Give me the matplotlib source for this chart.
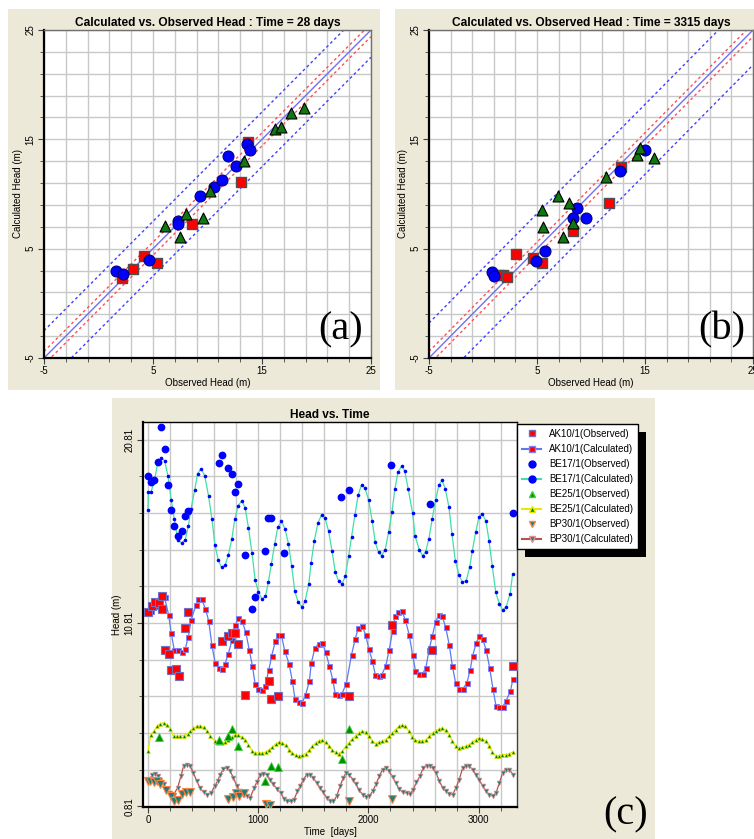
import matplotlib
matplotlib.use("Agg")
import matplotlib.pyplot as plt
from matplotlib.patches import Rectangle
from matplotlib.lines import Line2D
from matplotlib.ticker import MultipleLocator, FixedLocator
from matplotlib.transforms import IdentityTransform

W, H = 754, 839
BEIGE = "#ECE9D8"
GRID = "#C8C8C8"
plt.rcParams["font.family"] = ["Liberation Sans", "DejaVu Sans"]
plt.rcParams["axes.unicode_minus"] = False

# ---- panel (a): observed vs calculated head at 28 days
a_ak10_obs = [2.19, 3.2, 4.17, 5.4, 8.6, 13.07, 13.75]
a_ak10_calc = [2.32, 3.15, 4.37, 3.67, 7.27, 11.1, 14.8]
a_be17_obs = [1.57, 2.22, 4.6, 7.32, 7.32, 9.28, 10.63, 11.36, 11.88, 12.65, 13.62, 13.87]
a_be17_calc = [2.96, 2.66, 3.94, 7.57, 7.24, 9.83, 10.6, 11.27, 13.46, 12.52, 14.53, 14.04]
a_be25_obs = [6.07, 7.5, 8.06, 9.59, 10.23, 13.38, 16.2, 16.74, 17.66, 18.82]
a_be25_calc = [7.05, 6.08, 8.18, 7.85, 10.32, 13.0, 15.9, 16.15, 17.37, 17.83]

# ---- panel (b): observed vs calculated head at 3315 days
b_ak10_obs = [3.09, 4.65, 5.47, 1.5, 1.85, 2.18, 8.31, 11.67, 12.8]
b_ak10_calc = [4.52, 4.12, 3.73, 2.57, 2.55, 2.45, 6.66, 9.19, 12.49]
b_be17_obs = [0.83, 0.98, 4.95, 5.75, 8.34, 8.71, 9.53, 12.71, 14.97]
b_be17_calc = [2.87, 2.5, 3.91, 4.8, 7.85, 8.7, 7.85, 12.12, 14.07]
b_be25_obs = [5.47, 5.53, 6.94, 7.43, 7.98, 8.37, 11.37, 14.3, 14.54, 15.79]
b_be25_calc = [8.52, 6.96, 9.86, 6.05, 9.19, 7.33, 11.51, 13.61, 14.23, 13.31]

# ---- panel (c): head vs time
ak10_calc_t = [0, 27, 61, 97, 121, 151, 187, 211, 238, 271, 305, 338, 366, 392, 435, 453, 486, 522,
               552, 580, 610, 640, 670, 700, 727, 764, 794, 821, 852, 888, 918, 948, 972, 1002, 1032,
               1063, 1096, 1123, 1156, 1177, 1211, 1241, 1280, 1310, 1334, 1368, 1398, 1431, 1464,
               1482, 1515, 1548, 1582, 1612, 1645, 1676, 1700, 1730, 1761, 1799, 1847, 1881, 1908,
               1944, 1974, 2004, 2037, 2062, 2092, 2122, 2158, 2189, 2219, 2243, 2270, 2304, 2334,
               2370, 2400, 2427, 2457, 2491, 2521, 2551, 2579, 2609, 2639, 2670, 2700, 2733, 2761,
               2791, 2824, 2855, 2894, 2924, 2946, 2979, 3006, 3036, 3067, 3100, 3130, 3158, 3188,
               3218, 3249, 3288, 3312]
ak10_calc_h = [11.36, 11.45, 11.72, 12.0, 12.3, 12.2, 11.26, 10.26, 9.35, 9.35, 9.21, 9.39, 10.05,
               10.99, 11.77, 12.14, 12.14, 11.57, 10.9, 9.58, 8.62, 8.35, 8.29, 8.58, 9.09, 9.89,
               10.72, 11.08, 10.94, 10.3, 9.36, 8.45, 7.5, 7.21, 7.17, 7.36, 8.23, 9.03, 9.81, 10.17,
               10.14, 9.27, 8.59, 7.63, 6.66, 6.48, 6.45, 6.9, 7.63, 8.63, 9.45, 9.68, 9.7, 9.23,
               8.48, 7.72, 6.92, 6.88, 6.96, 7.5, 9.08, 9.94, 10.54, 10.63, 10.17, 9.39, 8.72, 7.99,
               7.94, 7.99, 8.48, 9.36, 10.36, 11.21, 11.39, 11.45, 10.99, 10.17, 9.08, 8.21, 8.05,
               8.03, 8.36, 9.36, 10.08, 10.85, 11.27, 11.17, 10.59, 9.63, 8.48, 7.54, 7.21, 7.21,
               7.54, 8.27, 9.03, 9.72, 10.12, 9.94, 9.36, 8.36, 7.21, 6.27, 6.23, 6.23, 6.57, 7.08,
               7.77]
ak10_obs_t = [0, 36, 66, 97, 127, 127, 151, 187, 211, 251, 278, 338, 366, 670, 725, 761, 791, 821,
              882, 1102, 1117, 1183, 1824, 2210, 2576, 3312]
ak10_obs_h = [11.39, 11.72, 11.94, 11.9, 12.26, 11.57, 9.32, 9.14, 8.27, 8.32, 7.9, 10.54, 11.39,
              9.85, 10.08, 10.26, 10.26, 9.66, 6.86, 7.63, 6.68, 6.81, 6.85, 10.72, 9.36, 8.45]

be17_calc_t = [0, 3, 27, 61, 88, 121, 151, 181, 211, 238, 271, 305, 338, 366, 390, 425, 450, 483,
               516, 550, 580, 607, 637, 668, 700, 730, 761, 788, 818, 852, 882, 912, 944, 972, 1002,
               1035, 1066, 1093, 1120, 1150, 1178, 1211, 1243, 1274, 1304, 1331, 1362, 1398, 1425,
               1459, 1480, 1509, 1542, 1576, 1606, 1639, 1670, 1700, 1730, 1761, 1790, 1820, 1847,
               1878, 1908, 1938, 1969, 2002, 2035, 2062, 2092, 2119, 2152, 2183, 2213, 2240, 2268,
               2304, 2330, 2361, 2400, 2424, 2461, 2491, 2518, 2548, 2579, 2609, 2639, 2667, 2697,
               2730, 2758, 2788, 2821, 2852, 2888, 2918, 2942, 2973, 3003, 3033, 3067, 3094, 3124,
               3155, 3188, 3218, 3249, 3285, 3309]
be17_calc_h = [16.99, 17.94, 17.94, 18.63, 19.54, 19.81, 19.66, 18.83, 17.54, 16.5, 15.35, 15.17,
               15.35, 16.08, 17.03, 18.08, 18.95, 19.23, 18.81, 17.72, 16.5, 15.08, 14.26, 13.84,
               13.95, 14.54, 15.39, 16.48, 17.21, 17.48, 17.08, 15.99, 14.63, 13.17, 12.48, 12.12,
               12.26, 13.06, 14.04, 15.12, 16.03, 16.35, 15.95, 15.14, 13.9, 12.57, 11.95, 11.68,
               11.99, 12.94, 14.08, 15.3, 16.26, 16.72, 16.54, 15.81, 14.72, 13.57, 13.08, 12.94,
               13.35, 14.44, 15.5, 16.72, 17.81, 18.35, 18.17, 17.5, 16.35, 15.21, 14.66, 14.48,
               14.81, 15.75, 16.84, 18.12, 19.03, 19.39, 19.08, 18.12, 16.81, 15.54, 14.81, 14.48,
               14.66, 15.39, 16.48, 17.5, 18.32, 18.59, 18.14, 17.14, 15.66, 14.21, 13.44, 13.03,
               13.12, 13.84, 14.72, 15.75, 16.59, 16.77, 16.35, 15.3, 13.9, 12.48, 11.86, 11.5,
               11.68, 12.39, 13.5]
be17_obs_t = [0, 27, 57, 94, 121, 151, 181, 211, 238, 271, 305, 335, 362, 640, 668, 730, 761, 791,
              821, 876, 942, 969, 1063, 1087, 1117, 1235, 1754, 1820, 2207, 2557, 3309]
be17_obs_h = [18.83, 18.48, 18.63, 19.6, 21.48, 20.3, 18.35, 16.99, 16.08, 15.54, 15.85, 16.63,
              16.9, 19.54, 19.97, 19.26, 18.95, 17.95, 18.41, 14.54, 11.59, 12.21, 14.72, 16.54,
              16.54, 14.6, 17.68, 18.08, 19.43, 17.28, 16.81]

be25_calc_t = [0, 27, 52, 82, 112, 142, 172, 202, 232, 262, 292, 323, 360, 383, 413, 443, 473, 504,
               533, 564, 607, 637, 670, 700, 730, 761, 791, 821, 852, 882, 912, 942, 972, 1005,
               1035, 1069, 1099, 1129, 1159, 1189, 1219, 1249, 1280, 1310, 1340, 1371, 1401, 1431,
               1462, 1492, 1521, 1552, 1582, 1612, 1642, 1673, 1703, 1733, 1764, 1793, 1823, 1854,
               1884, 1914, 1944, 1974, 2004, 2034, 2065, 2095, 2125, 2156, 2186, 2216, 2246, 2277,
               2306, 2336, 2367, 2397, 2427, 2458, 2488, 2518, 2552, 2582, 2612, 2643, 2670, 2700,
               2730, 2761, 2791, 2821, 2852, 2882, 2912, 2942, 2973, 3003, 3033, 3064, 3094, 3124,
               3155, 3185, 3215, 3245, 3279, 3312]
be25_calc_h = [3.81, 4.72, 4.9, 5.17, 5.32, 5.36, 5.27, 5.03, 4.63, 4.63, 4.63, 4.67, 4.76, 4.9,
               5.08, 5.17, 5.21, 5.12, 4.9, 4.67, 4.36, 4.27, 4.27, 4.3, 4.45, 4.59, 4.72, 4.68,
               4.59, 4.45, 4.17, 3.85, 3.72, 3.72, 3.72, 3.77, 3.9, 4.03, 4.21, 4.32, 4.27, 4.14,
               3.9, 3.72, 3.59, 3.54, 3.61, 3.68, 3.87, 4.08, 4.27, 4.39, 4.41, 4.3, 4.08, 3.87,
               3.76, 3.68, 3.81, 4.08, 4.27, 4.48, 4.67, 4.81, 4.9, 4.85, 4.63, 4.36, 4.23, 4.3,
               4.36, 4.45, 4.63, 4.81, 4.99, 5.17, 5.23, 5.17, 4.9, 4.59, 4.41, 4.36, 4.39, 4.41,
               4.63, 4.81, 4.94, 5.03, 5.07, 4.96, 4.72, 4.36, 4.08, 3.99, 4.03, 4.08, 4.17, 4.3,
               4.45, 4.54, 4.48, 4.36, 4.12, 3.76, 3.54, 3.57, 3.63, 3.63, 3.68, 3.77]
be25_obs_t = [97, 640, 730, 764, 821, 1063, 1117, 1183, 1757, 1824]
be25_obs_h = [4.59, 4.41, 4.63, 5.03, 4.08, 2.17, 2.99, 2.95, 3.39, 5.03]

bp30_calc_t = [0, 15, 36, 60, 88, 112, 142, 172, 202, 232, 269, 299, 323, 353, 383, 413, 443, 473,
               504, 540, 574, 604, 631, 655, 685, 715, 746, 776, 806, 836, 866, 897, 927, 963, 987,
               1017, 1048, 1078, 1108, 1138, 1168, 1205, 1235, 1265, 1295, 1325, 1356, 1380, 1410,
               1440, 1470, 1500, 1531, 1561, 1591, 1621, 1651, 1682, 1712, 1742, 1772, 1796, 1826,
               1857, 1887, 1917, 1947, 1977, 2008, 2038, 2068, 2098, 2128, 2159, 2189, 2219, 2249,
               2279, 2310, 2346, 2376, 2406, 2436, 2467, 2497, 2527, 2557, 2582, 2612, 2643, 2673,
               2703, 2733, 2764, 2794, 2824, 2855, 2885, 2915, 2946, 2976, 3006, 3036, 3067, 3097,
               3127, 3158, 3188, 3218, 3249, 3279, 3312]
bp30_calc_h = [2.27, 2.17, 2.54, 2.59, 2.45, 2.27, 2.0, 1.72, 1.54, 1.45, 1.81, 2.45, 3.0, 3.08,
               3.0, 2.63, 2.17, 1.81, 1.57, 1.45, 1.54, 1.9, 2.17, 2.54, 2.85, 2.9, 2.72, 2.36, 1.9,
               1.63, 1.45, 1.36, 1.27, 1.81, 2.12, 2.5, 2.59, 2.54, 2.27, 2.0, 1.76, 1.54, 1.21,
               1.08, 1.08, 1.17, 1.63, 1.9, 2.27, 2.54, 2.54, 2.36, 2.08, 1.81, 1.57, 1.27, 1.12,
               1.08, 1.36, 1.9, 2.36, 2.63, 2.54, 2.27, 2.0, 1.68, 1.45, 1.32, 1.36, 1.63, 2.0, 2.45,
               2.81, 2.88, 2.72, 2.39, 2.08, 1.76, 1.57, 1.54, 1.48, 1.72, 2.12, 2.45, 2.9, 3.03,
               3.03, 2.9, 2.63, 2.21, 1.81, 1.63, 1.48, 1.45, 1.81, 2.27, 2.9, 3.03, 3.0, 2.81, 2.54,
               2.27, 1.9, 1.63, 1.45, 1.36, 1.54, 2.08, 2.63, 2.81, 2.81, 2.54]
bp30_obs_t = [0, 21, 51, 82, 112, 166, 208, 238, 269, 308, 347, 377, 730, 767, 800, 830, 872,
              1072, 1108, 1826, 2216]
bp30_obs_h = [2.17, 2.17, 2.12, 2.17, 2.05, 1.72, 1.36, 1.08, 1.17, 1.5, 1.57, 1.57, 1.23, 1.3,
              1.54, 1.36, 1.54, 0.96, 0.9, 1.12, 1.23]

legend_labels = ["AK10/1(Observed)", "AK10/1(Calculated)", "BE17/1(Observed)", "BE17/1(Calculated)",
                 "BE25/1(Observed)", "BE25/1(Calculated)", "BP30/1(Observed)", "BP30/1(Calculated)"]


def px_box(x0, y0, x1, y1):
    # pixel box (top-left origin) -> figure fraction
    return [x0 / W, 1 - y1 / H, (x1 - x0) / W, (y1 - y0) / H]


def style_axes(ax, tick_size=7):
    ax.set_facecolor("white")
    ax.grid(True, which="both", color=GRID, lw=1)
    ax.set_axisbelow(True)
    for s in ["left", "bottom"]:
        ax.spines[s].set_linewidth(1.6)
        ax.spines[s].set_color("black")
    for s in ["top", "right"]:
        ax.spines[s].set_linewidth(1)
        ax.spines[s].set_color("#707070")
    ax.tick_params(which="both", direction="out", color="#404040", labelsize=tick_size, pad=2)
    ax.tick_params(which="major", length=4)
    ax.tick_params(which="minor", length=3)
    for lab in ax.get_yticklabels():
        lab.set_rotation(90)
        lab.set_va("center")


def scatter_panel(ax, title, sq, ci, tr, red_off, blue_off, tag):
    x = [-5, 25]
    ax.plot(x, x, color="#7070F0", lw=1, zorder=2)
    for off in (-red_off, red_off):
        ax.plot(x, [v + off for v in x], color="#FF5050", lw=1, ls=(0, (2, 2)), zorder=2)
    for off in (-blue_off, blue_off):
        ax.plot(x, [v + off for v in x], color="#4040FF", lw=1, ls=(0, (2, 2)), zorder=2)
    ax.scatter(sq[0], sq[1], marker="s", s=62, c="#FF0000", edgecolors="#505050", lw=1, zorder=3)
    ax.scatter(ci[0], ci[1], marker="o", s=62, c="#0000FF", edgecolors="#000080", lw=0.8, zorder=4)
    ax.scatter(tr[0], tr[1], marker="^", s=62, c="#107810", edgecolors="black", lw=0.8, zorder=5)
    ax.set_xlim(-5, 25)
    ax.set_ylim(-5, 25)
    ax.xaxis.set_major_locator(FixedLocator([-5, 5, 15, 25]))
    ax.yaxis.set_major_locator(FixedLocator([-5, 5, 15, 25]))
    ax.xaxis.set_minor_locator(MultipleLocator(2, offset=1))
    ax.yaxis.set_minor_locator(MultipleLocator(2, offset=1))
    ax.set_title(title, fontsize=8.6, fontweight="bold", pad=3)
    ax.set_xlabel("Observed Head (m)", fontsize=7, labelpad=1)
    ax.set_ylabel("Calculated Head (m)", fontsize=7, labelpad=2)
    style_axes(ax)
    ax.text(0.975, 0.03, tag, transform=ax.transAxes, ha="right", va="bottom",
            fontsize=29, family="Liberation Serif", zorder=6)


fig = plt.figure(figsize=(W / 100, H / 100), dpi=100, facecolor="white")

# beige panel backgrounds
for box in [(8, 9, 380, 390), (395, 9, 760, 390), (112, 398, 655, 845)]:
    fig.add_artist(Rectangle((box[0] / W, 1 - box[3] / H), (box[2] - box[0]) / W,
                             (box[3] - box[1]) / H, transform=fig.transFigure,
                             facecolor=BEIGE, edgecolor="none", zorder=-5))

ax_a = fig.add_axes(px_box(44, 30, 371, 358))
scatter_panel(ax_a, "Calculated vs. Observed Head : Time = 28 days",
              (a_ak10_obs, a_ak10_calc), (a_be17_obs, a_be17_calc), (a_be25_obs, a_be25_calc),
              0.6, 2.5, "(a)")

ax_b = fig.add_axes(px_box(429, 30, 753, 358))
scatter_panel(ax_b, "Calculated vs. Observed Head : Time = 3315 days",
              (b_ak10_obs, b_ak10_calc), (b_be17_obs, b_be17_calc), (b_be25_obs, b_be25_calc),
              0.6, 3.2, "(b)")

# ---- head vs time
ax_c = fig.add_axes(px_box(143, 422, 517, 807))
ax_c.plot(ak10_calc_t, ak10_calc_h, "-s", color="#5A7CF0", lw=0.9, ms=3.6, mfc="#FF0000",
          mec="#8080FF", mew=0.7, zorder=3)
ax_c.plot(ak10_obs_t, ak10_obs_h, "s", ms=6, mfc="#FF0000", mec="#7070C8", mew=0.8, zorder=4)
ax_c.plot(be17_calc_t, be17_calc_h, "-o", color="#40E0A8", lw=0.9, ms=2.6, mfc="#0000FF",
          mec="#0000FF", mew=0, zorder=3)
ax_c.plot(be17_obs_t, be17_obs_h, "o", ms=5.6, mfc="#0000FF", mec="#0000FF", mew=0, zorder=4)
ax_c.plot(be25_calc_t, be25_calc_h, "-^", color="#E8E800", lw=0.9, ms=2.8, mfc="#008000",
          mec="#E8E800", mew=0.4, zorder=3)
ax_c.plot(be25_obs_t, be25_obs_h, "^", ms=6, mfc="#009000", mec="#40D040", mew=0.6, zorder=4)
ax_c.plot(bp30_calc_t, bp30_calc_h, "-v", color="#B85050", lw=0.9, ms=3.4, mfc="#1F7F78",
          mec="#E09090", mew=0.5, zorder=3)
ax_c.plot(bp30_obs_t, bp30_obs_h, "v", ms=5.6, mfc="#1F7F78", mec="#FF8040", mew=0.8, zorder=4)

ax_c.set_xlim(-45, 3348)
ax_c.set_ylim(0.77, 21.77)
ax_c.xaxis.set_major_locator(FixedLocator([0, 1000, 2000, 3000]))
ax_c.xaxis.set_minor_locator(MultipleLocator(200))
ax_c.yaxis.set_major_locator(FixedLocator([0.81, 10.81, 20.81]))
ax_c.yaxis.set_minor_locator(FixedLocator([0.81 + 2 * k for k in range(11)]))
ax_c.set_title("Head vs. Time", fontsize=8.6, fontweight="bold", pad=3)
ax_c.set_xlabel("Time  [days]", fontsize=7, labelpad=1)
ax_c.set_ylabel("Head (m)", fontsize=7, labelpad=2)
style_axes(ax_c)
ax_c.spines["top"].set_color("black")
ax_c.spines["right"].set_color("#404040")

handles = [
    Line2D([], [], ls="none", marker="s", ms=5, mfc="#FF0000", mec="#7070C8"),
    Line2D([], [], color="#5A7CF0", marker="s", ms=5, mfc="#FF0000", mec="#8080FF"),
    Line2D([], [], ls="none", marker="o", ms=5, mfc="#0000FF", mec="#0000FF"),
    Line2D([], [], color="#40E0A8", marker="o", ms=5, mfc="#0000FF", mec="#0000FF"),
    Line2D([], [], ls="none", marker="^", ms=5, mfc="#009000", mec="#40D040"),
    Line2D([], [], color="#E8E800", marker="^", ms=5, mfc="#008000", mec="#E8E800"),
    Line2D([], [], ls="none", marker="v", ms=5, mfc="#1F7F78", mec="#FF8040"),
    Line2D([], [], color="#B85050", marker="v", ms=5, mfc="#1F7F78", mec="#E09090"),
]
leg = ax_c.legend(handles, legend_labels, loc="upper left", bbox_to_anchor=(517 / W, 1 - 424 / H),
                  bbox_transform=fig.transFigure, borderaxespad=0, fontsize=7, frameon=True,
                  fancybox=False, edgecolor="black", framealpha=1, labelspacing=0.52,
                  handlelength=2.0, handletextpad=0.8, borderpad=0.5)
leg.get_frame().set_linewidth(1)

# drop shadow behind the legend box
fig.canvas.draw()
bb = leg.get_window_extent()
fig.add_artist(Rectangle((bb.x0 + 8, bb.y0 - 8), bb.width, bb.height, transform=IdentityTransform(),
                         facecolor="black", edgecolor="none", zorder=-1))

fig.text(603 / W, 1 - 833 / H, "(c)", ha="left", va="bottom", fontsize=29,
         family="Liberation Serif")

fig.savefig("out.png", dpi=100)
